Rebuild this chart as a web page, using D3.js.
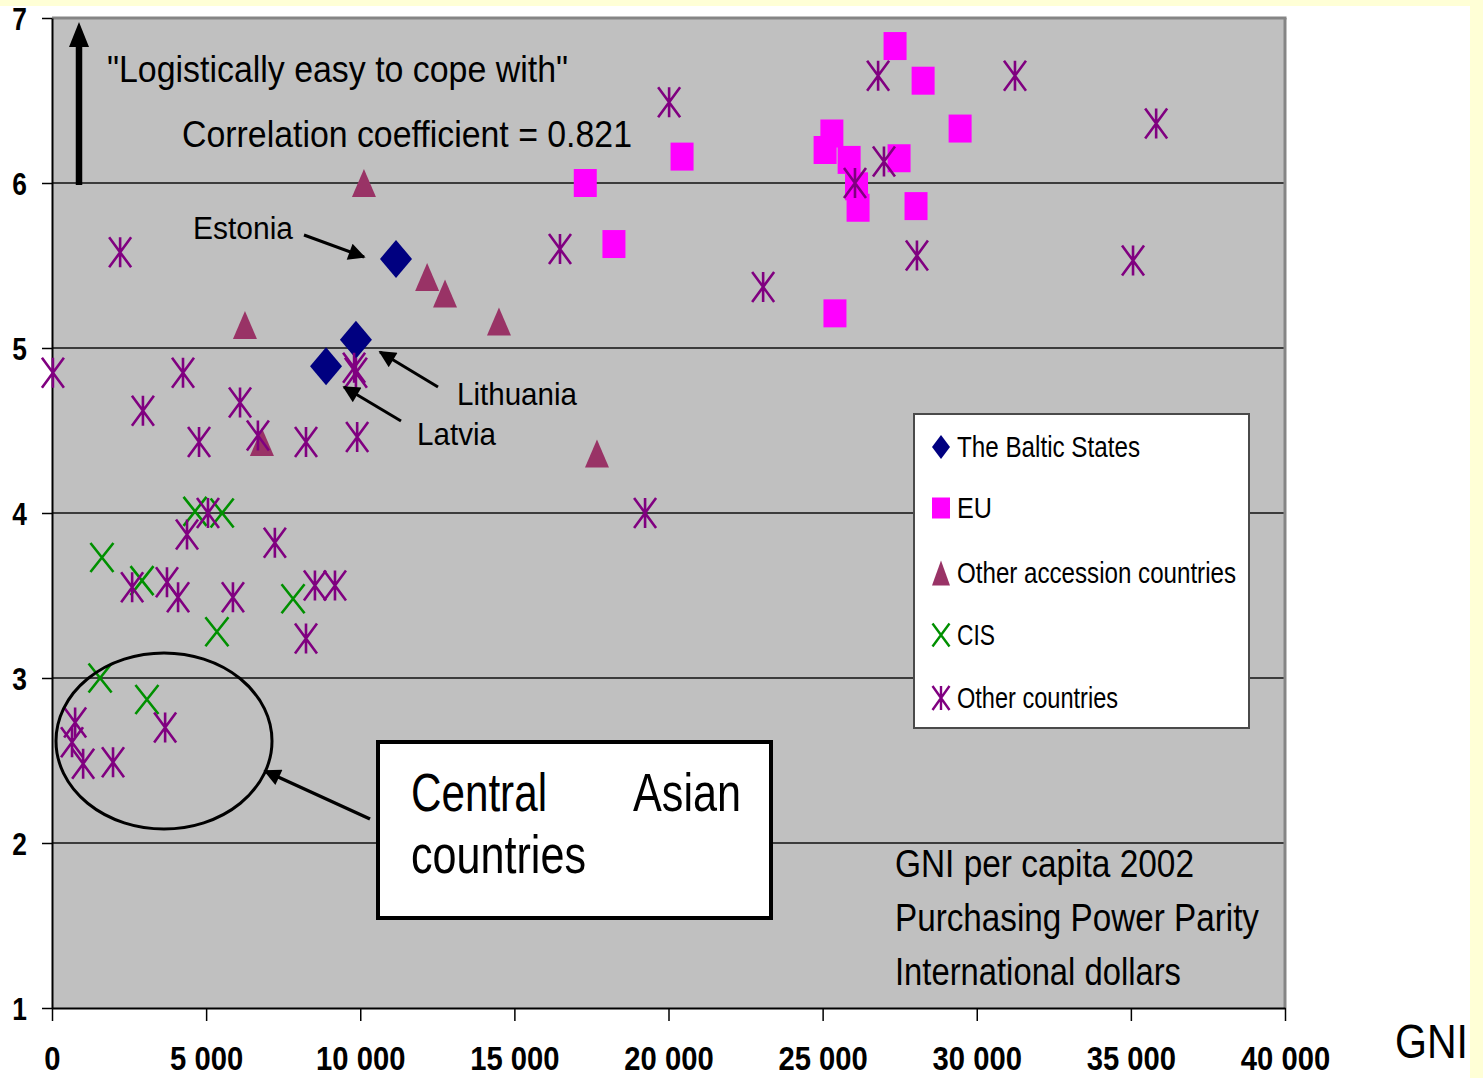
<!DOCTYPE html>
<html><head><meta charset="utf-8">
<script src="https://cdn.jsdelivr.net/npm/d3@7"></script>
<style>
html,body{margin:0;padding:0;background:#fff;overflow:hidden;}
svg{display:block;font-family:"Liberation Sans",Arial,sans-serif;}
</style></head><body>
<svg id="c" width="1483" height="1078"></svg>
<script>
// ---- data ----
const xTicks = [0, 5000, 10000, 15000, 20000, 25000, 30000, 35000, 40000];
const yTicks = [1, 2, 3, 4, 5, 6, 7];
const seriesNames = ["The Baltic States", "EU", "Other accession countries", "CIS", "Other countries"];

const balticX = [11160, 9860, 8890];
const balticY = [5.54, 5.05, 4.89];
const balticNames = ["Estonia", "Lithuania", "Latvia"];

const euX = [17300, 18230, 20440, 25300, 25080, 25860, 27480, 26100, 26150, 28030, 25400, 27350, 28260, 29460];
const euY = [6.00, 5.63, 6.16, 6.30, 6.20, 6.14, 6.15, 5.98, 5.85, 5.86, 5.21, 6.83, 6.62, 6.33];

const accX = [10120, 12170, 12750, 6260, 14500, 6810, 17680];
const accY = [6.00, 5.43, 5.33, 5.14, 5.16, 4.43, 4.36];

const cisX = [1620, 2920, 4640, 5520, 7820, 5350, 1560, 3080];
const cisY = [3.73, 3.59, 4.01, 4.00, 3.48, 3.28, 3.00, 2.87];

const othX = [30, 4250, 2950, 6100, 4770, 6680, 8240, 9900, 9800, 9860, 5060, 4380, 7230, 2600, 3730, 4090, 5870, 8530, 9180, 8240, 750, 650, 1010, 1980, 3670, 2210, 20020, 26800, 31240, 35820, 16480, 23070, 26050, 26990, 28060, 35070, 19240];
const othY = [4.85, 4.85, 4.62, 4.67, 4.43, 4.47, 4.43, 4.46, 4.88, 4.85, 4.00, 3.87, 3.82, 3.55, 3.58, 3.49, 3.49, 3.56, 3.56, 3.24, 2.73, 2.61, 2.48, 2.49, 2.70, 5.58, 6.49, 6.65, 6.65, 6.36, 5.60, 5.37, 6.00, 6.13, 5.56, 5.53, 4.00];

// ---- layout ----
const svg = d3.select("#c");
const L = 52, R = 1285, T = 18, B = 1008;
const x = d3.scaleLinear().domain([0, 40000]).range([L, R]);
const y = d3.scaleLinear().domain([1, 7]).range([B, T]);
const fmt = d3.formatLocale({decimal: ".", thousands: " ", grouping: [3], currency: ["", ""]}).format(",");

// page decoration
svg.append("rect").attr("x", 0).attr("y", 0).attr("width", 1483).attr("height", 1078).attr("fill", "#fff");
svg.append("rect").attr("x", 0).attr("y", 0).attr("width", 1483).attr("height", 6).attr("fill", "#ffffd6");
svg.append("rect").attr("x", 1470).attr("y", 0).attr("width", 13).attr("height", 1078).attr("fill", "#ffffd6");

// plot area
svg.append("rect").attr("x", L).attr("y", T).attr("width", R - L).attr("height", B - T).attr("fill", "#c0c0c0");
svg.append("g").selectAll("line").data(yTicks.filter(v => v > 1 && v < 7)).join("line")
  .attr("x1", L).attr("x2", R).attr("y1", d => y(d)).attr("y2", d => y(d))
  .attr("stroke", "#3c3c3c").attr("stroke-width", 2);
svg.append("line").attr("x1", L).attr("x2", R + 1.5).attr("y1", T).attr("y2", T).attr("stroke", "#858585").attr("stroke-width", 3);
svg.append("line").attr("x1", R).attr("x2", R).attr("y1", T).attr("y2", B).attr("stroke", "#858585").attr("stroke-width", 3);

// axes
const ya = svg.append("g").attr("transform", `translate(${L},0)`)
  .call(d3.axisLeft(y).tickValues(yTicks).tickSize(10).tickSizeOuter(0).tickFormat(d3.format("d")));
ya.select(".domain").attr("stroke", "#000").attr("stroke-width", 2);
ya.selectAll(".tick line").attr("stroke", "#000").attr("stroke-width", 1.5);
ya.selectAll(".tick text").attr("font-size", 31).attr("font-weight", "bold").attr("fill", "#000")
  .attr("font-family", "Liberation Sans, Arial, sans-serif")
  .attr("x", -25 / 0.85).attr("dy", "0.36em").attr("transform", "scale(0.85,1)");

const xa = svg.append("g").attr("transform", `translate(0,${B})`)
  .call(d3.axisBottom(x).tickValues(xTicks).tickSize(13).tickSizeOuter(0).tickPadding(25).tickFormat(fmt));
xa.select(".domain").attr("stroke", "#000").attr("stroke-width", 2);
xa.selectAll(".tick line").attr("stroke", "#000").attr("stroke-width", 1.5);
xa.selectAll(".tick text").attr("font-size", 34).attr("font-weight", "bold").attr("fill", "#000")
  .attr("font-family", "Liberation Sans, Arial, sans-serif")
  .attr("transform", "scale(0.86,1)");

// marker shapes
function shape(kind, w, h) {
  const a = w / 2, b = h / 2;
  if (kind === "diamond") return `M0,${-b}L${a},0L0,${b}L${-a},0Z`;
  if (kind === "square") return `M${-a},${-b}H${a}V${b}H${-a}Z`;
  if (kind === "triangle") return `M0,${-b}L${a},${b}L${-a},${b}Z`;
  if (kind === "x") return `M${-a},${-b}L${a},${b}M${a},${-b}L${-a},${b}`;
  return `M${-a},${-b}L${a},${b}M${a},${-b}L${-a},${b}M0,${-b}L0,${b}`;
}
const series = [
  {xs: balticX, ys: balticY, kind: "diamond", color: "#000080", w: 32, h: 38, fill: true},
  {xs: euX, ys: euY, kind: "square", color: "#ff00ff", w: 23, h: 28, fill: true},
  {xs: accX, ys: accY, kind: "triangle", color: "#993366", w: 24, h: 28, fill: true},
  {xs: cisX, ys: cisY, kind: "x", color: "#009000", w: 23, h: 29, fill: false},
  {xs: othX, ys: othY, kind: "star", color: "#800080", w: 22, h: 30, fill: false}
];
series.forEach(s => {
  svg.append("g").selectAll("path").data(s.xs.map((v, i) => [v, s.ys[i]])).join("path")
    .attr("transform", d => `translate(${x(d[0])},${y(d[1])})`)
    .attr("d", shape(s.kind, s.w, s.h))
    .attr("fill", s.fill ? s.color : "none")
    .attr("stroke", s.fill ? "none" : s.color)
    .attr("stroke-width", 2.6);
});

// annotations
const defs = svg.append("defs");
defs.append("marker").attr("id", "ah").attr("viewBox", "0 0 10 10").attr("refX", 9).attr("refY", 5)
  .attr("markerWidth", 20).attr("markerHeight", 17).attr("markerUnits", "userSpaceOnUse").attr("orient", "auto")
  .append("path").attr("d", "M0,0L10,5L0,10Z").attr("fill", "#000");

function txt(s, px, py, size, len, weight) {
  svg.append("text").attr("x", px).attr("y", py).attr("font-size", size)
    .attr("font-weight", weight || "normal").attr("fill", "#000")
    .attr("textLength", len).attr("lengthAdjust", "spacingAndGlyphs").text(s);
}
function arrow(x1, y1, x2, y2, w) {
  svg.append("line").attr("x1", x1).attr("y1", y1).attr("x2", x2).attr("y2", y2)
    .attr("stroke", "#000").attr("stroke-width", w || 3).attr("marker-end", "url(#ah)");
}

// vertical arrow
svg.append("line").attr("x1", 79).attr("x2", 79).attr("y1", 185).attr("y2", 44).attr("stroke", "#000").attr("stroke-width", 6.5);
svg.append("path").attr("d", "M79,22L69,47L89,47Z").attr("fill", "#000");

txt("\"Logistically easy to cope with\"", 107, 82, 36, 461);
txt("Correlation coefficient = 0.821", 182, 147, 37, 450);

txt("Estonia", 193, 239, 31, 100);
arrow(304, 235, 364, 257);
txt("Lithuania", 457, 405, 32, 120);
arrow(438, 387, 380, 352);
txt("Latvia", 417, 445, 32, 79);
arrow(401, 421, 344, 387);

// ellipse and callout
svg.append("ellipse").attr("cx", 164).attr("cy", 741).attr("rx", 108).attr("ry", 88)
  .attr("fill", "none").attr("stroke", "#000").attr("stroke-width", 3);
arrow(370, 819, 265, 771, 3.5);
svg.append("rect").attr("x", 378).attr("y", 742).attr("width", 393).attr("height", 176)
  .attr("fill", "#fff").attr("stroke", "#000").attr("stroke-width", 4);
txt("Central", 411, 811, 54, 136);
txt("Asian", 633, 811, 54, 108);
txt("countries", 411, 873, 54, 175);

txt("GNI per capita 2002", 895, 877, 38, 299);
txt("Purchasing Power Parity", 895, 931, 38, 364);
txt("International dollars", 895, 985, 38, 286);

txt("GNI", 1395, 1058, 48, 73);

// legend
const lg = svg.append("g");
lg.append("rect").attr("x", 914).attr("y", 414).attr("width", 335).attr("height", 314)
  .attr("fill", "#fff").attr("stroke", "#4a4a4a").attr("stroke-width", 2);
const legendY = [447, 508, 573, 635, 698];
const legendLen = [183, 35, 279, 38, 161];
const legendShapes = [
  {kind: "diamond", w: 18, h: 24}, {kind: "square", w: 18, h: 21}, {kind: "triangle", w: 18, h: 25},
  {kind: "x", w: 17, h: 23}, {kind: "star", w: 17, h: 24}
];
seriesNames.forEach((n, i) => {
  const s = series[i], m = legendShapes[i];
  lg.append("path").attr("transform", `translate(941,${legendY[i]})`).attr("d", shape(m.kind, m.w, m.h))
    .attr("fill", s.fill ? s.color : "none").attr("stroke", s.fill ? "none" : s.color).attr("stroke-width", 2.4);
  lg.append("text").attr("x", 957).attr("y", legendY[i] + 10).attr("font-size", 30).attr("fill", "#000")
    .attr("textLength", legendLen[i]).attr("lengthAdjust", "spacingAndGlyphs").text(n);
});
</script>
</body></html>
